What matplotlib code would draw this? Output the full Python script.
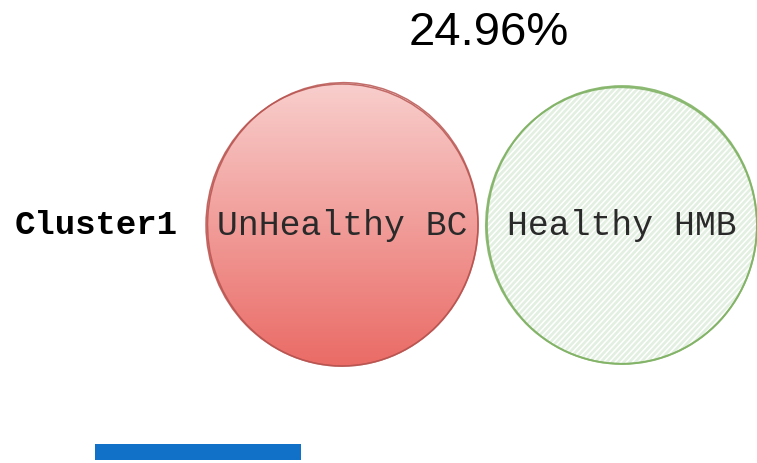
import numpy as np
import matplotlib.pyplot as plt
from matplotlib.patches import Ellipse

# data
cluster_labels = ["Cluster1"]
group_labels = ["UnHealthy BC", "Healthy HMB"]
share_pct = [24.96]
bar_lengths = [206]

W, H = 757, 464
fig = plt.figure(figsize=(W / 100, H / 100), dpi=100)
ax = fig.add_axes([0, 0, 1, 1])
ax.set_xlim(0, W)
ax.set_ylim(H, 0)
ax.set_aspect("equal")
ax.axis("off")

mono = ["Liberation Mono", "DejaVu Sans Mono"]

# -- red (gradient) circle --------------------------------------------------
rc, rrx, rry = (342, 226), 136, 141
red = Ellipse(rc, 2 * rrx, 2 * rry, facecolor="none", edgecolor="none")
ax.add_patch(red)
grad = np.linspace(0, 1, 256)[:, None]
top = np.array([248, 206, 204]) / 255
bot = np.array([234, 107, 102]) / 255
img = top[None, None, :] * (1 - grad[..., None]) + bot[None, None, :] * grad[..., None]
im = ax.imshow(img, extent=(rc[0] - rrx, rc[0] + rrx, rc[1] + rry, rc[1] - rry),
               aspect="auto", zorder=1, interpolation="bilinear")
im.set_clip_path(red)
ax.set_xlim(0, W)
ax.set_ylim(H, 0)
# sketchy double outline
for dx, dy, ddx, ddy, ang in [(0, 0, 0, 0, 0), (0.8, -0.6, -1.5, 1.5, 3)]:
    ax.add_patch(Ellipse((rc[0] + dx, rc[1] + dy), 2 * rrx + ddx, 2 * rry + ddy, angle=ang,
                         facecolor="none", edgecolor="#b85450", lw=1.1, alpha=0.85, zorder=3))

# -- green (hachure) circle -------------------------------------------------
gc, grx, gry = (622, 226), 135, 139
green = Ellipse(gc, 2 * grx, 2 * gry, facecolor="white", edgecolor="none", zorder=1)
ax.add_patch(green)
theta = np.deg2rad(47)
d = np.array([np.cos(theta), -np.sin(theta)])
nrm = np.array([np.sin(theta), np.cos(theta)])
L = 400
for k in np.arange(-300, 300, 4.2):
    p0 = np.array(gc) + nrm * k - d * L
    p1 = np.array(gc) + nrm * k + d * L
    ln, = ax.plot([p0[0], p1[0]], [p0[1], p1[1]], color="#e2efe1", lw=1.9, zorder=2,
                  solid_capstyle="butt")
    ln.set_clip_path(green)
for dx, dy, ddx, ddy, ang in [(0, 0, 0, 0, 0), (-0.6, 0.5, 1, -1.5, -3)]:
    ax.add_patch(Ellipse((gc[0] + dx, gc[1] + dy), 2 * grx + ddx, 2 * gry + ddy, angle=ang,
                         facecolor="none", edgecolor="#82b366", lw=1.3, alpha=0.9, zorder=3))

# -- texts ------------------------------------------------------------------
for (cx, cy), lab in zip([rc, gc], group_labels):
    ax.text(cx, cy, lab, ha="center", va="center", family=mono, fontsize=25,
            color="#2a2a2a", zorder=4)
ax.text(178, 226, cluster_labels[0], ha="right", va="center", family=mono,
        fontsize=24.5, fontweight="bold", color="black")
ax.text(489, 33, f"{share_pct[0]:.2f}%", ha="center", va="center",
        family=["Liberation Sans", "Arial", "DejaVu Sans"], fontsize=34, color="black")

# -- blue bar ---------------------------------------------------------------
ax.barh([452.5], bar_lengths, left=95, height=16, color="#1170c7", zorder=2)

fig.savefig("out.png", dpi=100)
